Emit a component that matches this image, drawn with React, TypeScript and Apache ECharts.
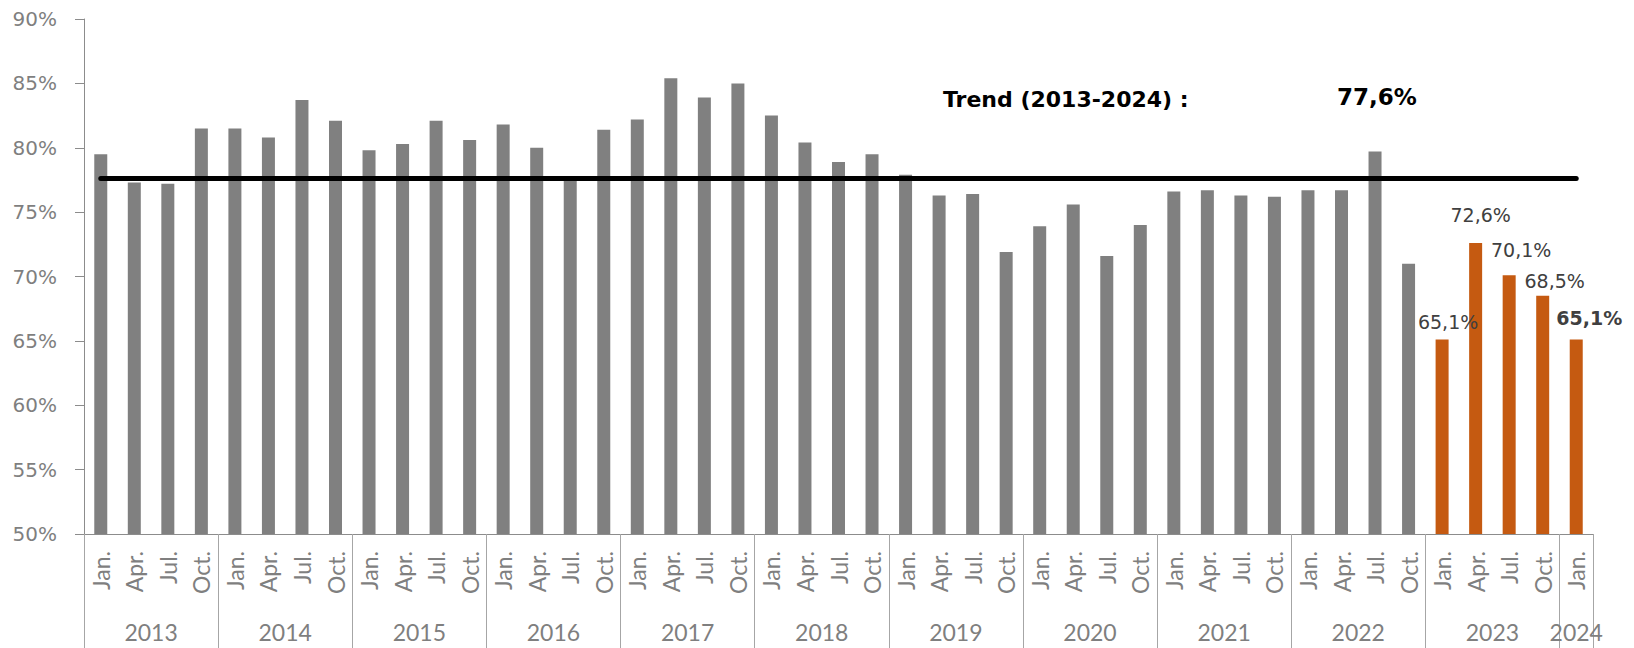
import React, { useEffect, useRef } from "react";
import * as echarts from "echarts";

// ---- data ----
const years = ["2013", "2014", "2015", "2016", "2017", "2018", "2019", "2020", "2021", "2022", "2023", "2024"];
const quartersPerYear = [4, 4, 4, 4, 4, 4, 4, 4, 4, 4, 4, 1];
const quarterNames = ["Jan.", "Apr.", "Jul.", "Oct."];
const values = [
  79.5, 77.3, 77.2, 81.5, // 2013
  81.5, 80.8, 83.7, 82.1, // 2014
  79.8, 80.3, 82.1, 80.6, // 2015
  81.8, 80.0, 77.5, 81.4, // 2016
  82.2, 85.4, 83.9, 85.0, // 2017
  82.5, 80.4, 78.9, 79.5, // 2018
  77.9, 76.3, 76.4, 71.9, // 2019
  73.9, 75.6, 71.6, 74.0, // 2020
  76.6, 76.7, 76.3, 76.2, // 2021
  76.7, 76.7, 79.7, 71.0, // 2022
  65.1, 72.6, 70.1, 68.5, // 2023
  65.1, // 2024
];
const highlightFrom = 40; // first highlighted period (Jan. 2023)
const trendValue = 77.6;
const trendTitle = "Trend (2013-2024) :";
const yTicks = { min: 50, max: 90, interval: 5 };

// ---- styles ----
const GRAY = "#7f7f7f";
const ORANGE = "#c55a11";
const labelStyles: Record<number, { distance: number; dx: number; bold?: boolean }> = {
  40: { distance: 8, dx: 6 },
  41: { distance: 19, dx: 5 },
  42: { distance: 16, dx: 12 },
  43: { distance: 5, dx: 12 },
  44: { distance: 12, dx: 13, bold: true },
};

const fmt = (v: number) => v.toFixed(1).replace(".", ",") + "%";

export default function App() {
  const ref = useRef<HTMLDivElement>(null);
  useEffect(() => {
    if (!ref.current) return;
    const chart = echarts.init(ref.current, null, { renderer: "svg" });

    const categories: string[] = [];
    const boundaries: number[] = [0];
    const yearCenters: number[] = [];
    let pos = 0;
    years.forEach((y, i) => {
      const n = quartersPerYear[i];
      for (let q = 0; q < n; q++) categories.push(quarterNames[q]);
      yearCenters.push(pos + n / 2);
      pos += n;
      boundaries.push(pos);
    });

    const barData = values.map((v, i) => {
      const item: any = { value: v };
      if (i >= highlightFrom) {
        item.itemStyle = { color: ORANGE };
        const ls = labelStyles[i];
        item.label = {
          show: true,
          position: "top",
          distance: ls ? ls.distance : 8,
          offset: [ls ? ls.dx : 0, 0],
          formatter: () => fmt(v),
          fontFamily: "DejaVu Sans",
          fontSize: 19,
          fontWeight: ls && ls.bold ? "bold" : "normal",
          color: "#404040",
        };
      }
      return item;
    });

    chart.setOption({
      animation: false,
      grid: { left: 84, right: 41, top: 19, bottom: 114, containLabel: false },
      xAxis: [
        {
          type: "category",
          data: categories,
          position: "bottom",
          boundaryGap: true,
          axisLine: { show: true, lineStyle: { color: "#8c8c8c", width: 1 } },
          axisTick: { show: false },
          axisLabel: {
            interval: 0,
            rotate: 90,
            margin: 17,
            fontFamily: "Lato",
            fontSize: 23,
            color: GRAY,
          },
          splitLine: { show: false },
        },
        {
          type: "value",
          position: "bottom",
          min: 0,
          max: pos,
          axisLine: { show: false },
          splitLine: { show: false },
          axisTick: {
            show: true,
            customValues: boundaries,
            length: 114,
            lineStyle: { color: "#a6a6a6", width: 1 },
          },
          axisLabel: {
            customValues: yearCenters,
            margin: 86,
            fontFamily: "Lato",
            fontSize: 23,
            color: GRAY,
            formatter: (v: number) => {
              const idx = yearCenters.findIndex((c) => Math.abs(c - v) < 1e-6);
              return idx >= 0 ? years[idx] : "";
            },
          },
        },
      ],
      yAxis: {
        type: "value",
        min: yTicks.min,
        max: yTicks.max,
        interval: yTicks.interval,
        axisLine: { show: true, lineStyle: { color: "#8c8c8c", width: 1 } },
        axisTick: { show: true, length: 9, lineStyle: { color: "#8c8c8c" } },
        axisLabel: {
          margin: 27,
          fontFamily: "DejaVu Sans",
          fontSize: 20,
          color: GRAY,
          formatter: (v: number) => `${v}%`,
        },
        splitLine: { show: false },
      },
      series: [
        {
          type: "bar",
          xAxisIndex: 0,
          yAxisIndex: 0,
          data: barData,
          barWidth: 13,
          itemStyle: { color: "#808080" },
          markLine: {
            silent: true,
            symbol: ["none", "none"],
            label: { show: false },
            lineStyle: { color: "#000000", width: 5, type: "solid", cap: "round" },
            data: [
              [
                { coord: [0, trendValue] },
                { coord: [values.length - 1, trendValue] },
              ],
            ],
          },
        },
      ],
      graphic: [
        {
          type: "text",
          x: 943,
          y: 99,
          style: {
            text: trendTitle,
            fontFamily: "DejaVu Sans",
            fontSize: 22,
            fontWeight: "bold",
            fill: "#000000",
            align: "left",
            verticalAlign: "middle",
          },
        },
        {
          type: "text",
          x: 1337,
          y: 97,
          style: {
            text: fmt(trendValue),
            fontFamily: "DejaVu Sans",
            fontSize: 23,
            fontWeight: "bold",
            fill: "#000000",
            align: "left",
            verticalAlign: "middle",
          },
        },
      ],
    });
    return () => chart.dispose();
  }, []);
  return (
    <div
      ref={ref}
      style={{ position: "fixed", left: 0, top: 0, width: 1634, height: 648, background: "#ffffff" }}
    />
  );
}
